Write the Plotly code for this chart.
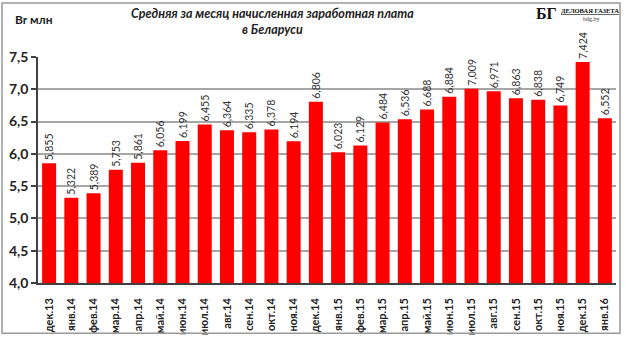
import plotly.graph_objects as go

# Monthly average accrued wage, Belarus, million Br
months = ["дек.13", "янв.14", "фев.14", "мар.14", "апр.14", "май.14", "июн.14",
          "июл.14", "авг.14", "сен.14", "окт.14", "ноя.14", "дек.14", "янв.15",
          "фев.15", "мар.15", "апр.15", "май.15", "июн.15", "июл.15", "авг.15",
          "сен.15", "окт.15", "ноя.15", "дек.15", "янв.16"]
wage = [5.855, 5.322, 5.389, 5.753, 5.861, 6.056, 6.199,
        6.455, 6.364, 6.335, 6.378, 6.194, 6.806, 6.023,
        6.129, 6.484, 6.536, 6.688, 6.884, 7.009, 6.971,
        6.863, 6.838, 6.749, 7.424, 6.552]
y_ticks = [4.0, 4.5, 5.0, 5.5, 6.0, 6.5, 7.0, 7.5]

title_text = "Средняя за месяц начисленная заработная плата<br>в Беларуси"
unit_text = "Br млн"

FONT = "Lato"

fig = go.Figure()
fig.add_trace(go.Bar(
    x=months, y=wage,
    marker=dict(color="#FF0000", line=dict(width=0)),
    texttemplate="%{y:.3f}",
    textposition="outside",
    textangle=-90,
    constraintext="none",
    textfont=dict(family=FONT, size=10.5, color="#333333"),
    cliponaxis=False,
    hoverinfo="skip",
))

fig.update_layout(
    width=625, height=344,
    margin=dict(l=38, r=9, t=57, b=57),
    paper_bgcolor="white", plot_bgcolor="white",
    separators=",.",
    bargap=0.37,
    showlegend=False,
    font=dict(family=FONT, color="#222222"),
)

fig.update_xaxes(
    type="category",
    tickangle=-90,
    tickfont=dict(family=FONT, size=11, color="#222222", weight="bold"),
    ticks="", ticklabelstandoff=9,
    showline=True, linecolor="#404040", linewidth=1.5,
    showgrid=False,
)
fig.update_yaxes(
    range=[4.0, 7.5],
    tickvals=y_ticks,
    tickformat=".1f",
    tickfont=dict(family=FONT, size=14, color="#222222", weight="bold"),
    ticks="outside", ticklen=5, tickcolor="#404040", tickwidth=1.5,
    showline=True, linecolor="#404040", linewidth=1.5,
    showgrid=True, gridcolor="#A6A6A6", gridwidth=1.5,
    zeroline=False,
)

# Title
fig.add_annotation(
    xref="paper", yref="paper", x=0.405, y=1.0, yshift=53,
    xanchor="center", yanchor="top",
    text=title_text, showarrow=False,
    font=dict(family=FONT, size=12.5, color="#222222", style="italic", weight="bold"),
    align="center",
)
# Unit label
fig.add_annotation(
    xref="paper", yref="paper", x=0, xshift=-25, y=1.0, yshift=38,
    xanchor="left", yanchor="middle",
    text=unit_text, showarrow=False,
    font=dict(family=FONT, size=12, color="#222222", weight="bold"),
)
# Publisher logo
fig.add_annotation(
    xref="paper", yref="paper", x=1.0, xshift=-57, y=1.0, yshift=44,
    xanchor="right", yanchor="middle",
    text="<b>БГ</b>", showarrow=False,
    font=dict(family="Liberation Serif", size=16, color="#111111"),
)
fig.add_annotation(
    xref="paper", yref="paper", x=1.0, xshift=5, y=1.0, yshift=47,
    xanchor="right", yanchor="middle",
    text="<b><u>ДЕЛОВАЯ ГАЗЕТА</u></b>", showarrow=False,
    font=dict(family="Liberation Serif", size=6.5, color="#111111"),
)
fig.add_annotation(
    xref="paper", yref="paper", x=1.0, xshift=-14, y=1.0, yshift=38,
    xanchor="right", yanchor="middle",
    text="bdg.by", showarrow=False,
    font=dict(family="Liberation Serif", size=6, color="#333333"),
)

# Outer frame
fig.add_shape(
    type="rect", xref="paper", yref="paper",
    x0=-0.0623, x1=1.0069, y0=-0.222, y1=1.239,
    line=dict(color="#9A9A9A", width=1.5), fillcolor="rgba(0,0,0,0)",
    layer="above",
)

fig.write_html("out.html")
